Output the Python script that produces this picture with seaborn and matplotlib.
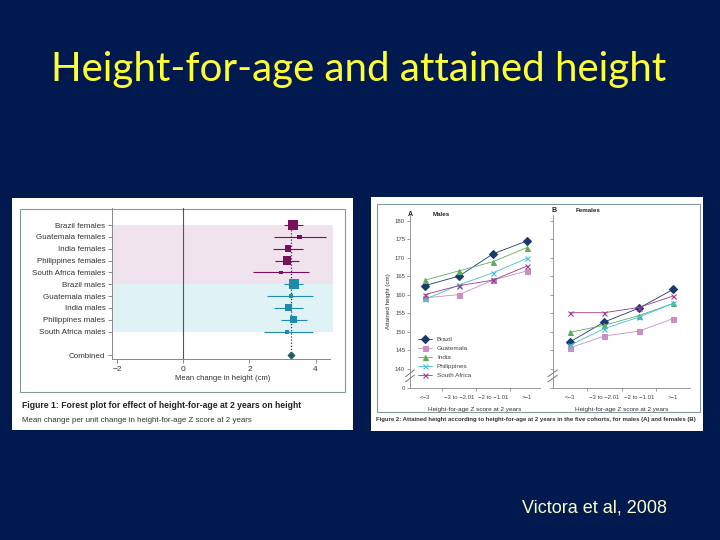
import numpy as np
import pandas as pd
import matplotlib.pyplot as plt
import seaborn as sns
from matplotlib.patches import Rectangle

# ---- data (Victora et al, 2008) ----
forest_labels = ["Brazil females", "Guatemala females", "India females",
                 "Philippines females", "South Africa females",
                 "Brazil males", "Guatemala males", "India males",
                 "Philippines males", "South Africa males"]
forest_sex = ["F"] * 5 + ["M"] * 5
forest_est = [3.32, 3.52, 3.16, 3.14, 2.95, 3.34, 3.26, 3.18, 3.33, 3.14]
forest_lo = [3.04, 2.75, 2.70, 2.76, 2.11, 3.06, 2.53, 2.75, 2.96, 2.43]
forest_hi = [3.63, 4.33, 3.63, 3.50, 3.80, 3.61, 3.93, 3.63, 3.73, 3.93]
forest_weight = [9.5, 4.5, 6.5, 8.5, 3.5, 10, 4.5, 7, 7.5, 4]
combined_est = 3.27

haz_groups = ["<\u22123", "\u22123 to \u22122.01", "\u22122 to \u22121.01", ">\u22121"]
countries = ["Brazil", "Guatemala", "India", "Philippines", "South Africa"]
male_height = {
    "Brazil":       [162.5, 165.1, 171.1, 174.6],
    "Guatemala":    [159.2, 160.1, 164.0, 166.5],
    "India":        [164.0, 166.5, 169.0, 172.8],
    "Philippines":  [158.8, 162.7, 166.0, 169.9],
    "South Africa": [160.1, 162.5, 164.0, 167.8],
}
female_height = {
    "Brazil":       [147.3, 152.7, 156.4, 161.5],
    "Guatemala":    [145.7, 148.9, 150.2, 153.6],
    "India":        [149.9, 151.8, 154.4, 157.7],
    "Philippines":  [146.4, 150.9, 154.0, 157.7],
    "South Africa": [155.2, 155.2, 156.6, 159.7],
}

W, H = 720, 540
NAVY = "#001a4f"
sns.set_theme(style="white")
plt.rcParams["font.family"] = ["Liberation Sans", "DejaVu Sans"]

fig = plt.figure(figsize=(7.2, 5.4), dpi=100, facecolor=NAVY)


def fig_rect(x0, y0, x1, y1, z=-2, **kw):
    r = Rectangle((x0 / W, 1 - y1 / H), (x1 - x0) / W, (y1 - y0) / H,
                  transform=fig.transFigure, zorder=z, **kw)
    fig.patches.append(r)


def ax_at(x0, y0, x1, y1):
    a = fig.add_axes([x0 / W, 1 - y1 / H, (x1 - x0) / W, (y1 - y0) / H])
    a.set_facecolor("none")
    return a


def ftext(x, y, s, **kw):
    return fig.text(x / W, 1 - y / H, s, **kw)


# white picture panels with thin frames (behind the axes)
fig_rect(12, 198, 353, 430, facecolor="white", edgecolor="none")
fig_rect(20, 209, 345, 392, z=-1, fill=False, edgecolor="#7f9c9a", lw=0.8)
fig_rect(371, 197, 703, 431, facecolor="white", edgecolor="none")
fig_rect(377, 204, 700, 412, z=-1, fill=False, edgecolor="#7f9c9a", lw=0.8)

# slide title + citation
ftext(359, 69, "Height-for-age and attained height", color="#ffff33",
      fontsize=29, ha="center", va="center", family=["Lato", "DejaVu Sans"])
ftext(595, 508, "Victora et al, 2008", color="#ffffcc", fontsize=13,
      ha="center", va="center")

# ---- Figure 1: forest plot ----
fcol = {"F": "#7a0f5e", "M": "#1f8aaa"}
rows = np.arange(len(forest_labels))
comb_row = len(forest_labels) + 1

ax = ax_at(111.7, 208, 332.7, 359.3)
ax.set_xlim(-2.17, 4.52)
ax.set_ylim(11.35, -1.44)
ax.axhspan(0, 5, color="#f1e3ee", lw=0, zorder=0)
ax.axhspan(5, 9.05, color="#dff2f5", lw=0, zorder=0)
ax.axvline(0, color="#555555", lw=0.8, zorder=1)
ax.axvline(combined_est, ymax=0.93, color="#333333", lw=0.9,
           ls=(0, (1, 1.5)), zorder=1)
ax.hlines(rows, forest_lo, forest_hi, colors=[fcol[s] for s in forest_sex],
          lw=0.8, zorder=2)
fdf = pd.DataFrame({"est": forest_est, "row": rows, "sex": forest_sex})
sns.scatterplot(data=fdf, x="est", y="row", hue="sex", palette=fcol,
                marker="s", s=(np.array(forest_weight) * 0.72) ** 2,
                linewidth=0, legend=False, ax=ax, zorder=3)
ax.scatter([combined_est], [comb_row], marker="D", s=(4.5 * 0.72) ** 2,
           color="#1f5f6a", zorder=3)
ax.set_yticks(list(rows) + [comb_row])
ax.set_yticklabels(forest_labels + ["Combined"])
ax.set_xticks([-2, 0, 2, 4])
ax.set_xticklabels(["\u22122", "0", "2", "4"])
ax.set_xlabel("Mean change in height (cm)", fontsize=5.5, labelpad=2,
              color="#333333")
ax.set_ylabel("")
ax.tick_params(axis="both", direction="out", length=3, width=0.6,
               color="#777777", labelsize=5.8, labelcolor="#333333", pad=1.5,
               left=True, bottom=True)
ax.tick_params(axis="x", labelsize=6)
for side in ["top", "right"]:
    ax.spines[side].set_visible(False)
for side in ["left", "bottom"]:
    ax.spines[side].set_color("#888888")
    ax.spines[side].set_linewidth(0.7)
ax.spines["bottom"].set_bounds(-2.17, 4.45)

ftext(22, 406, "Figure 1: Forest plot for effect of height-for-age at 2 years on height",
      fontsize=6.2, fontweight="bold", color="#222222", va="center")
ftext(22, 420, "Mean change per unit change in height-for-age Z score at 2 years",
      fontsize=5.7, color="#333333", va="center")

# ---- Figure 2: attained height ----
pal = {"Brazil": "#1a3a6e", "Guatemala": "#c98fc0", "India": "#5fae5f",
       "Philippines": "#40c0d8", "South Africa": "#9c3d8c"}
marks = {"Brazil": "D", "Guatemala": "s", "India": "^",
         "Philippines": "x", "South Africa": "x"}


def long_df(d):
    recs = []
    for c in countries:
        for g, v in zip(haz_groups, d[c]):
            recs.append({"country": c, "haz": g, "height": v})
    return pd.DataFrame(recs)


y_bottom = 134.85
panels = [
    (ax_at(410, 215, 540, 388), male_height, (-0.44, 3.38), True),
    (ax_at(552.7, 215, 690, 388), female_height, (-0.5, 3.49), False),
]
for a, d, xl, first in panels:
    sns.lineplot(data=long_df(d), x="haz", y="height", hue="country",
                 palette=pal, hue_order=countries, lw=0.6,
                 legend=False, ax=a)
    for c, ln in zip(countries, a.lines):
        ln.set_marker(marks[c])
        ln.set_markersize(3.6)
        ln.set_markerfacecolor(ln.get_color())
        ln.set_markeredgecolor(ln.get_color())
        ln.set_markeredgewidth(0.8)
    a.set_xlim(*xl)
    a.set_ylim(y_bottom, 181.6)
    yt = list(np.arange(140, 181, 5))
    a.set_yticks([y_bottom] + yt)
    if first:
        a.set_yticklabels(["0"] + [str(int(v)) for v in yt])
        a.set_ylabel("Attained height (cm)", fontsize=4.5, labelpad=3,
                     color="#333333")
    else:
        a.set_yticklabels([])
        a.set_ylabel("")
    a.set_xticks(range(len(haz_groups)))
    a.set_xticklabels(haz_groups)
    a.set_xticks([0.5, 1.5, 2.5], minor=True)
    a.tick_params(axis="x", which="major", length=0, pad=5)
    a.tick_params(axis="x", which="minor", length=2, width=0.5,
                  color="#777777", direction="out", bottom=True)
    a.tick_params(axis="y", length=2, width=0.5, color="#777777",
                  direction="out", pad=1.5, left=True)
    a.tick_params(labelsize=4.3, labelcolor="#444444")
    a.set_xlabel("Height-for-age Z score at 2 years", fontsize=4.6,
                 labelpad=5, color="#333333")
    for side in ["top", "right"]:
        a.spines[side].set_visible(False)
    for side in ["left", "bottom"]:
        a.spines[side].set_color("#888888")
        a.spines[side].set_linewidth(0.6)
    # axis break marks
    for dy in (0.055, 0.085):
        a.plot([-0.035, 0.035], [dy - 0.02, dy + 0.02], transform=a.transAxes,
               color="#666666", lw=0.6, clip_on=False)
    if first:
        a.legend(handles=a.lines[:len(countries)], labels=countries,
                 loc="lower left", bbox_to_anchor=(0.04, 0.04),
                 frameon=False, fontsize=4.6, handlelength=2.2,
                 labelspacing=0.55, borderpad=0, handletextpad=0.7,
                 labelcolor="#444444")

ftext(408, 214, "A", fontsize=5, fontweight="bold", color="#222222", va="center")
ftext(433, 214, "Males", fontsize=4.5, fontweight="bold", color="#222222", va="center")
ftext(551, 211, "B", fontsize=5, fontweight="bold", color="#222222", va="center")
ftext(576, 211, "Females", fontsize=4.5, fontweight="bold", color="#222222", va="center")
ftext(376, 420, "Figure 2: Attained height according to height-for-age at 2 years "
      "in the five cohorts, for males (A) and females (B)",
      fontsize=4.3, fontweight="bold", color="#333333", va="center")

fig.savefig("out.png", dpi=100, facecolor=NAVY)
